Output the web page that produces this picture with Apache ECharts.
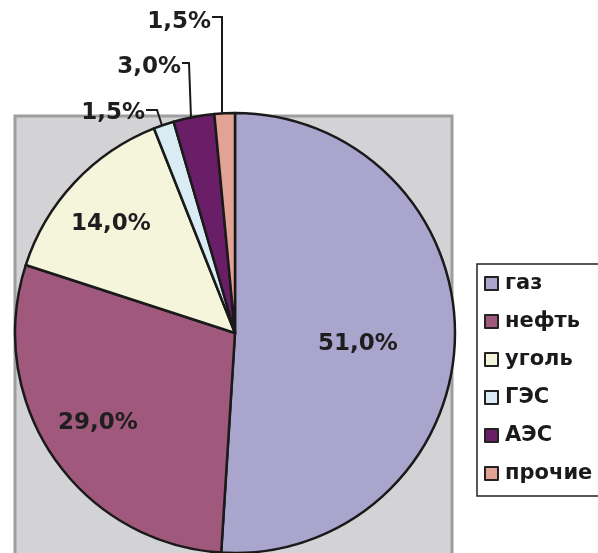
<!DOCTYPE html>
<html><head><meta charset="utf-8">
<script src="https://cdn.jsdelivr.net/npm/echarts@6/dist/echarts.min.js"></script>
<style>html,body{margin:0;padding:0;background:#fff}#c{width:598px;height:553px}</style>
</head><body><div id="c"></div>
<script>
const categories = ['газ', 'нефть', 'уголь', 'ГЭС', 'АЭС', 'прочие'];
const values = [51.0, 29.0, 14.0, 1.5, 3.0, 1.5];
const colors = ['#A9A5CD', '#A0587D', '#F5F5DB', '#D9EBF3', '#6A1E68', '#E2A394'];

// pie geometry
const CX = 235, CY = 333, R = 220;
// label placement (inside: centre; outside: right end of text + leader)
const labelSpots = [
  { x: 358, y: 344 },
  { x: 98, y: 423 },
  { x: 111, y: 224 },
  { x: 145, y: 113, lineY: 110, turnX: 157, edgeX: 162 },
  { x: 181, y: 67, lineY: 63, turnX: 189, edgeX: 191 },
  { x: 211, y: 22, lineY: 17, turnX: 222, edgeX: 222 }
];
const FONT = 'DejaVu Sans';

function fmt(v) { return v.toFixed(1).replace('.', ',') + '%'; }

const chart = echarts.init(document.getElementById('c'), null, { renderer: 'canvas' });
chart.setOption({
  animation: false,
  backgroundColor: '#ffffff',
  graphic: [{
    type: 'rect', z: 0,
    shape: { x: 15, y: 116, width: 437, height: 460 },
    style: { fill: '#D3D3D5', stroke: '#9E9EA0', lineWidth: 3 }
  }],
  legend: {
    orient: 'vertical',
    left: 477, top: 264,
    padding: [9, 12, 12, 7],
    itemGap: 17,
    itemWidth: 13, itemHeight: 13,
    icon: 'rect',
    borderColor: '#222', borderWidth: 1.5,
    backgroundColor: '#ffffff',
    itemStyle: { borderColor: '#222', borderWidth: 2 },
    textStyle: { fontFamily: FONT, fontWeight: 'bold', fontSize: 21, color: '#1a1a1a', padding: [0, 0, 0, 2] },
    data: categories
  },
  series: [{
    type: 'pie',
    z: 5,
    center: [CX, CY],
    radius: R,
    startAngle: 90,
    clockwise: true,
    avoidLabelOverlap: false,
    itemStyle: { borderColor: '#1a1a1a', borderWidth: 2.5 },
    label: {
      fontFamily: FONT, fontWeight: 'bold', fontSize: 23, color: '#1e1e1e',
      formatter: p => fmt(p.value)
    },
    labelLine: { lineStyle: { color: '#1a1a1a', width: 2 } },
    labelLayout: function (p) {
      const s = labelSpots[p.dataIndex];
      if (s.turnX == null) {
        return { x: s.x, y: s.y, align: 'center', verticalAlign: 'middle' };
      }
      const edgeY = CY - Math.sqrt(R * R - (s.edgeX - CX) * (s.edgeX - CX));
      return {
        x: s.x, y: s.y, align: 'right', verticalAlign: 'middle',
        labelLinePoints: [[s.edgeX, edgeY], [s.turnX, s.lineY], [s.x + 1, s.lineY]]
      };
    },
    data: categories.map((name, i) => ({
      name: name,
      value: values[i],
      itemStyle: { color: colors[i] },
      label: { show: true, position: i >= 3 ? 'outside' : 'inside' },
      labelLine: { show: i >= 3, length: 10, length2: 10 }
    }))
  }]
});
</script>
</body></html>
